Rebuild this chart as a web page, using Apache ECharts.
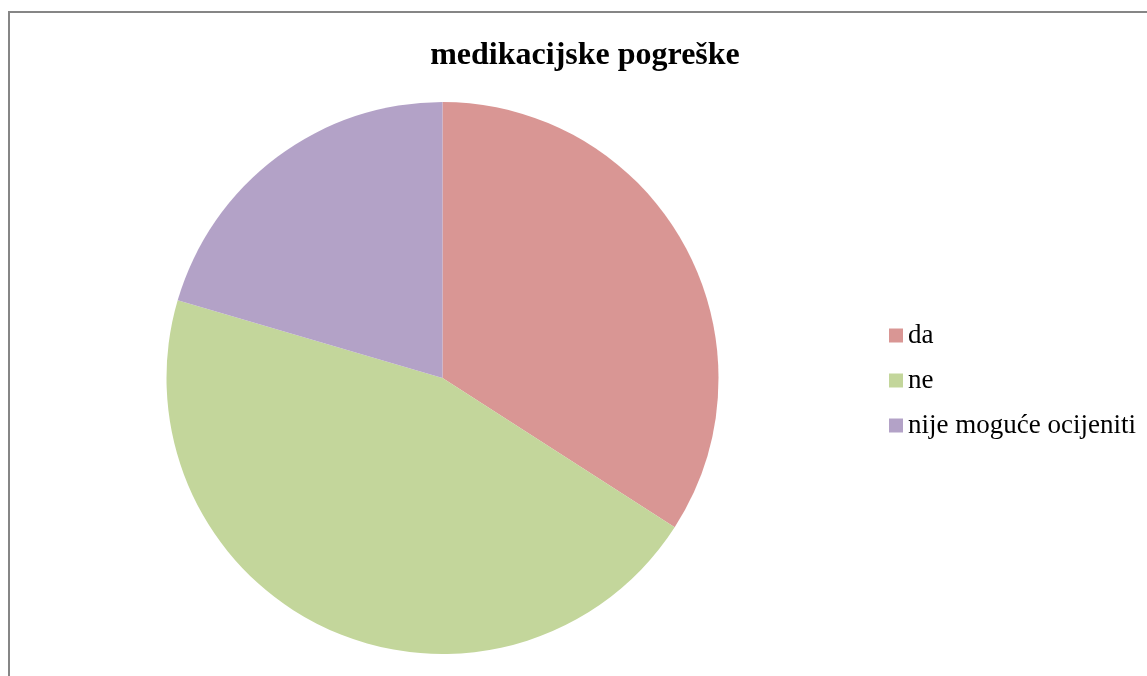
<!DOCTYPE html>
<html>
<head>
<meta charset="utf-8">
<script src="https://cdn.jsdelivr.net/npm/echarts@6/dist/echarts.min.js"></script>
<style>
html,body{margin:0;padding:0;background:#fff;}
#c{width:1147px;height:676px;}
</style>
</head>
<body>
<div id="c"></div>
<script>
const categories = ['da', 'ne', 'nije moguće ocijeniti'];
const values = [15, 20, 9];
const colors = ['#D99694', '#C3D69B', '#B3A2C7'];
const titleText = 'medikacijske pogreške';

const chart = echarts.init(document.getElementById('c'), null, {renderer: 'canvas'});
chart.setOption({
  animation: false,
  backgroundColor: '#fff',
  title: {
    text: titleText,
    left: 585, top: 40, textAlign: 'center', padding: 0,
    textStyle: {fontFamily: 'Liberation Serif', fontWeight: 'bold', fontSize: 32, color: '#000'}
  },
  legend: {
    orient: 'vertical',
    left: 889, top: 322, padding: 0,
    itemWidth: 14, itemHeight: 14, itemGap: 18,
    icon: 'rect',
    textStyle: {fontFamily: 'Liberation Serif', fontSize: 27, lineHeight: 27, color: '#000'},
    data: categories
  },
  graphic: [{
    type: 'rect', silent: true, z: -1,
    shape: {x: 9, y: 12, width: 1200, height: 700},
    style: {fill: 'none', stroke: '#868686', lineWidth: 2}
  }],
  series: [{
    type: 'pie',
    center: [442.5, 378],
    radius: 276,
    startAngle: 90,
    clockwise: true,
    label: {show: false},
    labelLine: {show: false},
    itemStyle: {borderWidth: 0},
    emphasis: {disabled: true},
    data: categories.map((n, i) => ({name: n, value: values[i], itemStyle: {color: colors[i]}}))
  }]
});
</script>
</body>
</html>
